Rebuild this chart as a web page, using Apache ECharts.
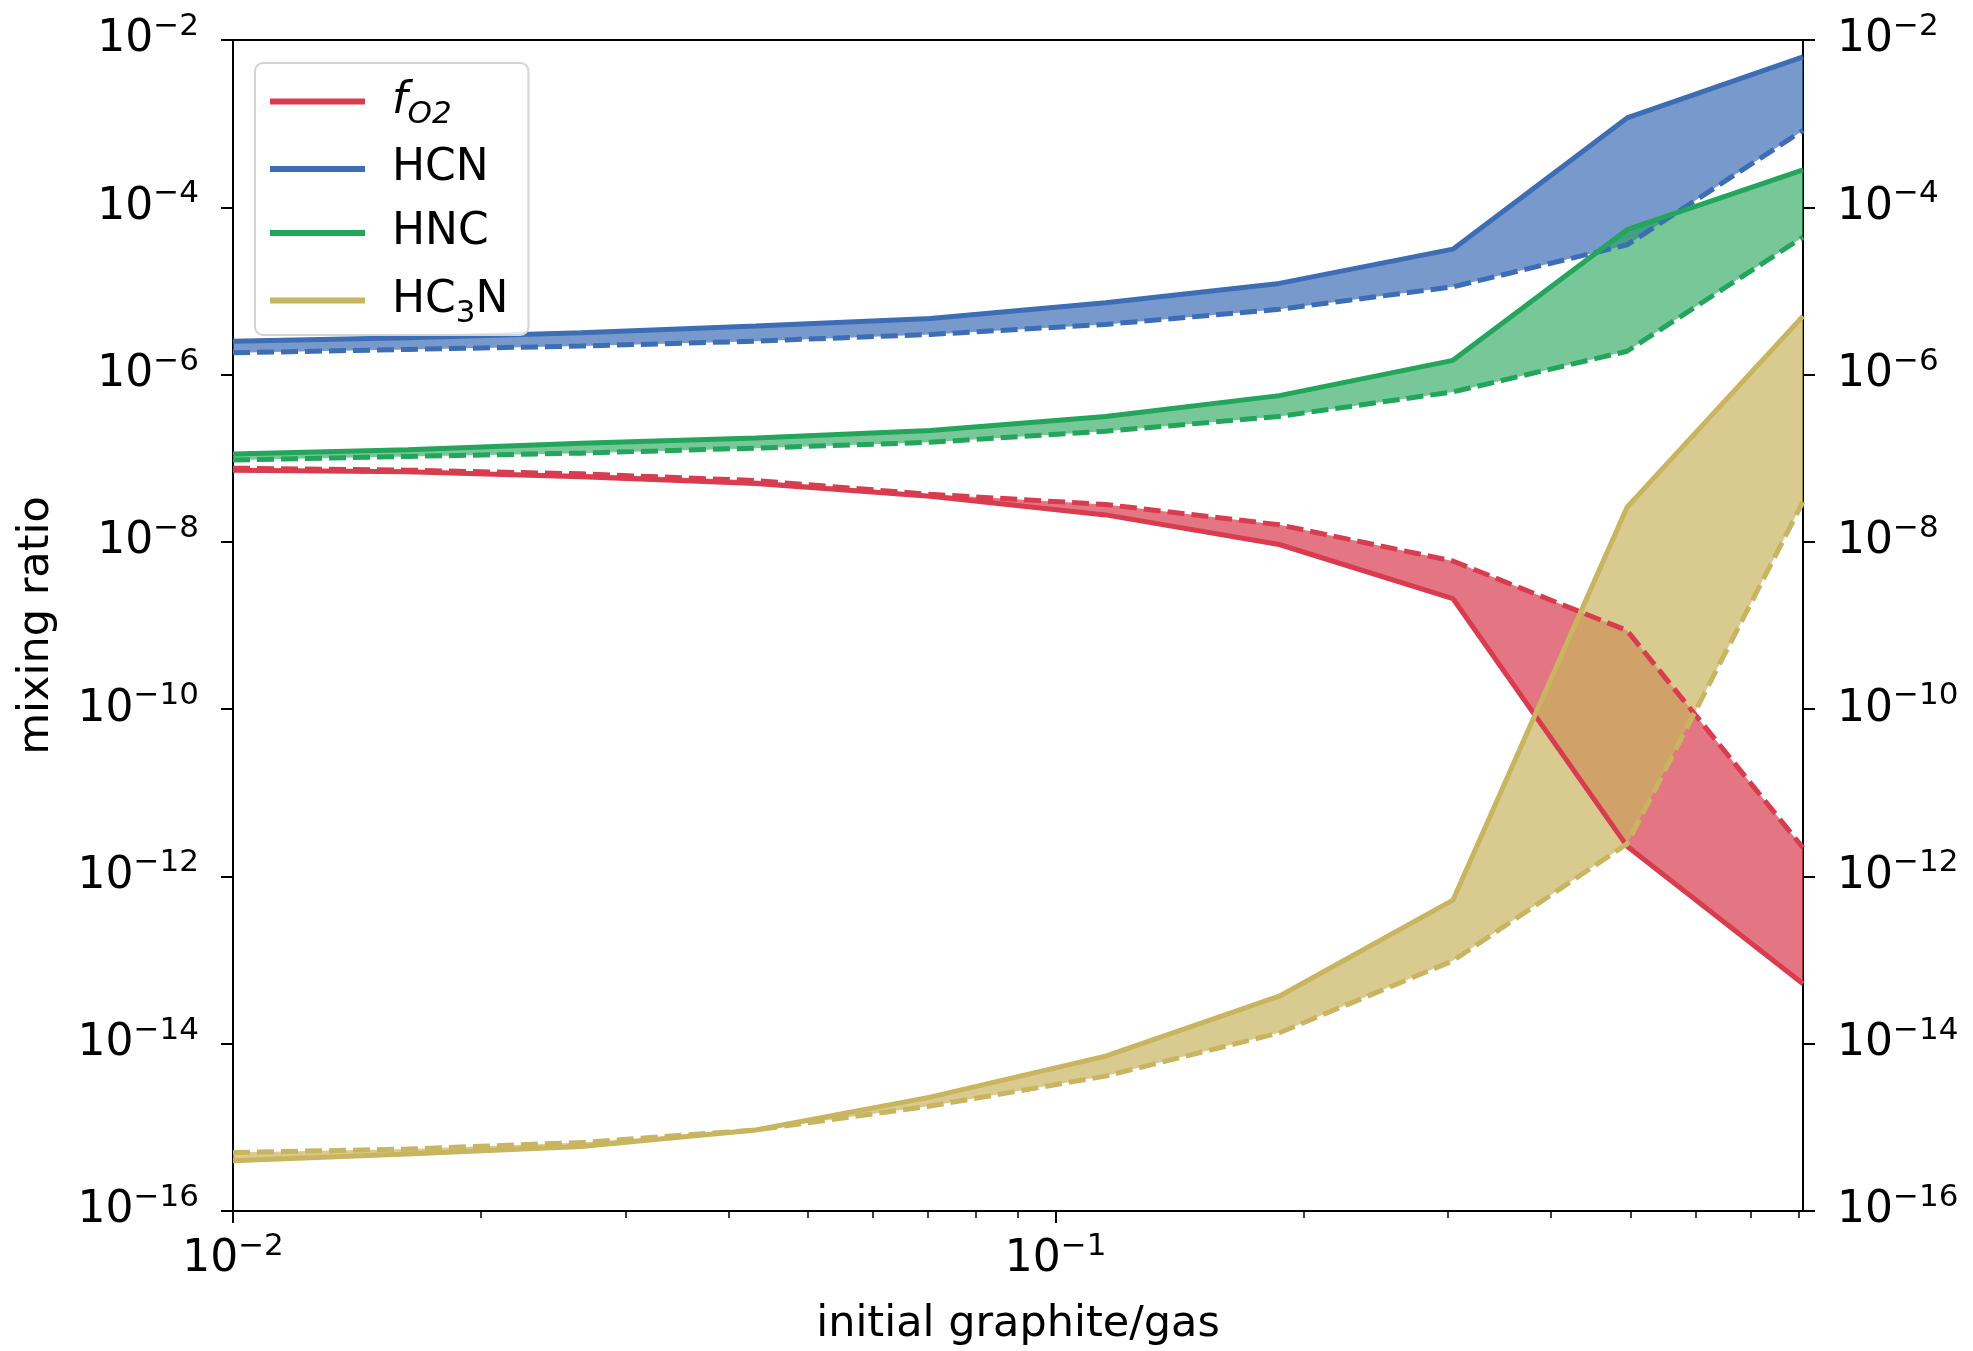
<!DOCTYPE html>
<html><head><meta charset="utf-8">
<script src="https://cdn.jsdelivr.net/npm/echarts@6/dist/echarts.min.js"></script>
<style>html,body{margin:0;padding:0;background:#fff}#c{width:1973px;height:1351px}</style>
</head><body><div id="c"></div>
<script>
// x: initial graphite/gas
const xValues = [0.01, 0.0163, 0.0265, 0.0432, 0.0704, 0.115, 0.187, 0.304, 0.495, 0.81];
// f_O2 (solid / dashed)
const fO2Solid  = [7.2e-8, 6.9e-8, 6.0e-8, 5.0e-8, 3.5e-8, 2.1e-8, 9.3e-9, 2.1e-9, 2.3e-12, 5.2e-14];
const fO2Dashed = [7.6e-8, 7.2e-8, 6.5e-8, 5.4e-8, 3.7e-8, 2.8e-8, 1.6e-8, 5.9e-9, 8.7e-10, 2.2e-12];
// HCN
const hcnSolid  = [2.51e-6, 2.75e-6, 3.16e-6, 3.8e-6, 4.68e-6, 7.24e-6, 1.23e-5, 3.16e-5, 1.17e-3, 6.3e-3];
const hcnDashed = [1.82e-6, 2.0e-6, 2.19e-6, 2.51e-6, 3.02e-6, 3.98e-6, 6.03e-6, 1.12e-5, 3.55e-5, 8.3e-4];
// HNC
const hncSolid  = [1.12e-7, 1.26e-7, 1.51e-7, 1.74e-7, 2.14e-7, 3.16e-7, 5.6e-7, 1.48e-6, 5.4e-5, 2.8e-4];
const hncDashed = [9.5e-8, 1.05e-7, 1.15e-7, 1.32e-7, 1.55e-7, 2.1e-7, 3.16e-7, 6.2e-7, 1.9e-6, 4.4e-5];
// HC3N
const hc3nSolid  = [4.0e-16, 4.8e-16, 5.9e-16, 9.3e-16, 2.3e-15, 7.1e-15, 3.7e-14, 5.2e-13, 2.6e-8, 5.0e-6];
const hc3nDashed = [5.0e-16, 5.5e-16, 6.6e-16, 9.3e-16, 1.8e-15, 4.1e-15, 1.35e-14, 9.8e-14, 2.45e-12, 3.0e-8];
// ticks
const xMajorTicks = [0.01, 0.1];
const xMinorTicks = [0.02, 0.03, 0.04, 0.05, 0.06, 0.07, 0.08, 0.09, 0.2, 0.3, 0.4, 0.5, 0.6, 0.7, 0.8];
const yTicks = [1e-16, 1e-14, 1e-12, 1e-10, 1e-8, 1e-6, 1e-4, 1e-2];
const speciesNames = ['fO2', 'HCN', 'HNC', 'HC3N'];
const legendLabels = {fO2: '{it|f}{itsub|O2}', HCN: 'HCN', HNC: 'HNC', HC3N: 'HC{sub|3}N'};

const FONT = 'DejaVu Sans';
const colors = {fO2: '#d83c4e', HCN: '#3d6db5', HNC: '#23a55b', HC3N: '#c9b460'};
const fills = {fO2: 'rgba(216,60,78,0.7)', HCN: 'rgba(61,109,181,0.7)', HNC: 'rgba(35,165,91,0.62)', HC3N: 'rgba(201,180,96,0.7)'};

function pairs(arr){ return xValues.map((x, i) => [x, arr[i]]); }

function powLabel(v){
  const e = Math.round(Math.log(v) / Math.LN10);
  if (Math.abs(Math.log(v) / Math.LN10 - e) > 1e-6) return '';
  return '{b|10}{s|' + (e < 0 ? '\u2212' + (-e) : '' + e) + '}';
}
const labelRich = {
  b: {fontSize: 44, fontFamily: FONT, color: '#000', lineHeight: 50},
  s: {fontSize: 31, fontFamily: FONT, color: '#000', lineHeight: 24, padding: [0, 0, 26, 0]}
};

function lineSeries(name, arr, dashed, color, z){
  return {
    type: 'line', name: name, data: pairs(arr), symbol: 'none', showSymbol: false,
    xAxisIndex: 0, yAxisIndex: 0, z: z, silent: true,
    lineStyle: {width: 5, color: color, type: dashed ? [17, 7] : 'solid'},
    itemStyle: {color: color}, color: color
  };
}
function bandSeries(name, upper, lower, fill, z){
  return {
    type: 'custom', name: name + ' band', coordinateSystem: 'cartesian2d',
    xAxisIndex: 0, yAxisIndex: 0, silent: true, z: z, clip: true,
    data: [[xValues[0], upper[0]]],
    renderItem: function(params, api){
      const pts = [];
      for (let i = 0; i < xValues.length; i++) pts.push(api.coord([xValues[i], upper[i]]));
      for (let i = xValues.length - 1; i >= 0; i--) pts.push(api.coord([xValues[i], lower[i]]));
      return {type: 'polygon', shape: {points: pts}, style: {fill: fill, stroke: null}};
    }
  };
}

const groups = [
  ['fO2', fO2Solid, fO2Dashed],
  ['HCN', hcnSolid, hcnDashed],
  ['HNC', hncSolid, hncDashed],
  ['HC3N', hc3nSolid, hc3nDashed]
];
const series = [];
groups.forEach((g, k) => {
  series.push(bandSeries(g[0], g[1], g[2], fills[g[0]], 1));
});
groups.forEach((g, k) => {
  series.push(lineSeries(g[0], g[1], false, colors[g[0]], 3));
  series.push(lineSeries(g[0] + ' lower', g[2], true, colors[g[0]], 3));
});

const yAxisCommon = {
  type: 'log', logBase: 10, min: 1e-16, max: 1e-2, interval: 2,
  axisLine: {show: false},
  axisTick: {show: true, length: 12, customValues: yTicks, lineStyle: {color: '#000', width: 2}},
  axisLabel: {show: true, margin: 34, customValues: yTicks, formatter: powLabel, rich: labelRich},
  splitLine: {show: false}, minorTick: {show: false}
};

const option = {
  animation: false,
  backgroundColor: '#fff',
  grid: {left: 233, right: 170, top: 40, bottom: 140, show: true, borderColor: '#000', borderWidth: 2, backgroundColor: 'transparent'},
  legend: {
    data: speciesNames, orient: 'vertical', left: 255, top: 63, z: 10,
    padding: [10, 20, 6, 15], backgroundColor: 'rgba(255,255,255,0.85)', borderColor: '#d4d4d4', borderWidth: 2, borderRadius: 8,
    itemGap: 14, itemWidth: 95, itemHeight: 6, icon: 'rect', selectedMode: false,
    formatter: function(name){ return legendLabels[name]; },
    textStyle: {
      fontSize: 44, fontFamily: FONT, color: '#000', lineHeight: 50, padding: [0, 0, 0, 22],
      rich: {
        it: {fontSize: 44, fontFamily: FONT, fontStyle: 'italic', color: '#000', lineHeight: 50},
        itsub: {fontSize: 31, fontFamily: FONT, fontStyle: 'italic', color: '#000', lineHeight: 24, padding: [26, 0, 0, 0]},
        sub: {fontSize: 31, fontFamily: FONT, color: '#000', lineHeight: 24, padding: [26, 0, 0, 0]}
      }
    }
  },
  xAxis: [
    {
      type: 'log', logBase: 10, min: 0.01, max: 0.81, position: 'bottom',
      name: 'initial graphite/gas', nameLocation: 'middle', nameGap: 92,
      nameTextStyle: {fontSize: 43, fontFamily: FONT, color: '#000'},
      axisLine: {show: false},
      axisTick: {show: true, length: 12, customValues: xMajorTicks, lineStyle: {color: '#000', width: 2}},
      axisLabel: {show: true, margin: 24, customValues: xMajorTicks, formatter: powLabel, rich: labelRich},
      splitLine: {show: false}, minorTick: {show: false}
    },
    {
      type: 'log', logBase: 10, min: 0.01, max: 0.81, position: 'bottom', gridIndex: 0,
      axisLine: {show: false},
      axisTick: {show: true, length: 7, customValues: xMinorTicks, lineStyle: {color: '#000', width: 1.5}},
      axisLabel: {show: false}, splitLine: {show: false}
    }
  ],
  yAxis: [
    Object.assign({}, yAxisCommon, {
      position: 'left', name: 'mixing ratio', nameLocation: 'middle', nameGap: 175, nameRotate: 90,
      nameTextStyle: {fontSize: 43, fontFamily: FONT, color: '#000'}
    }),
    Object.assign({}, yAxisCommon, {position: 'right'})
  ],
  series: series
};

const chart = echarts.init(document.getElementById('c'), null, {renderer: 'canvas'});
chart.setOption(option);
</script>
</body></html>
